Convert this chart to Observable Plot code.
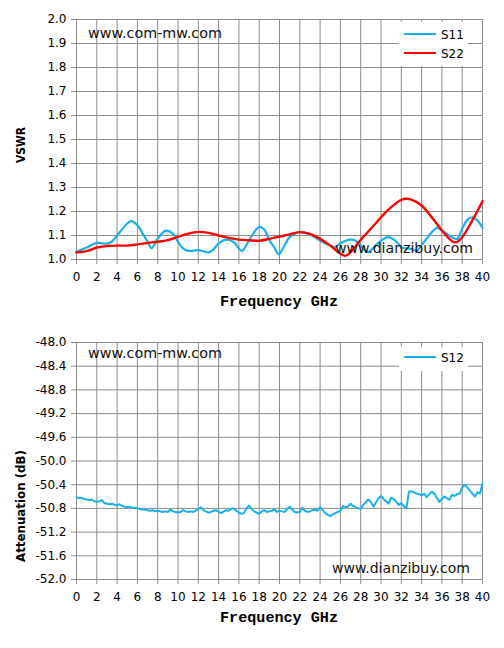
<!DOCTYPE html>
<html><head><meta charset="utf-8">
<script src="https://cdn.jsdelivr.net/npm/d3@7"></script>
<script src="https://cdn.jsdelivr.net/npm/@observablehq/plot@0.6"></script>
<style>
body{margin:0;background:#fff;}
#wrap{position:relative;width:504px;height:648px;background:#fff;}
#wrap svg{display:block;}
#overlay{position:absolute;left:0;top:0;}
</style></head><body><div id="wrap"></div>
<script>
// ---------- data ----------
const freqTicks = [0,2,4,6,8,10,12,14,16,18,20,22,24,26,28,30,32,34,36,38,40];
const vswrTicks = [1.0,1.1,1.2,1.3,1.4,1.5,1.6,1.7,1.8,1.9,2.0];
const attTicks = [-52.0,-51.6,-51.2,-50.8,-50.4,-50.0,-49.6,-49.2,-48.8,-48.4,-48.0];

const s11Freq = [0,1,2,3,3.5,4,5,5.4,6,6.5,7,7.4,8,8.8,9.5,10,10.5,11,12,13,13.5,14,14.8,15.5,16.3,17,18,18.5,19,19.5,19.9,20.4,21,22,23,24,25,25.5,26,27,27.5,28,28.7,29.5,30,30.7,31.5,32,33,33.5,34,35,35.5,36,37,37.5,38,38.5,39,39.5,40];
const s11Vswr = [1.032,1.05,1.069,1.066,1.075,1.10,1.15,1.16,1.143,1.11,1.074,1.047,1.087,1.12,1.108,1.074,1.046,1.036,1.039,1.03,1.042,1.067,1.083,1.072,1.036,1.08,1.136,1.125,1.08,1.05,1.022,1.05,1.093,1.114,1.104,1.079,1.058,1.051,1.068,1.083,1.078,1.058,1.031,1.06,1.078,1.093,1.075,1.051,1.044,1.037,1.06,1.114,1.132,1.121,1.093,1.086,1.128,1.165,1.176,1.163,1.132];

const s22Freq = [0,1,2,3,4,5,6,7,8,9,10,11,12,13,14,15,16,17,18,19,20,21,22,23,24,25,26,26.5,27,28,29,30,31,32,32.5,33,34,35,36,37,37.4,38,39,40];
const s22Vswr = [1.029,1.035,1.05,1.056,1.058,1.058,1.063,1.069,1.074,1.081,1.094,1.108,1.115,1.111,1.10,1.09,1.083,1.08,1.078,1.086,1.095,1.105,1.114,1.107,1.086,1.058,1.024,1.015,1.031,1.082,1.128,1.176,1.218,1.249,1.253,1.249,1.225,1.176,1.121,1.076,1.072,1.093,1.163,1.243];

const s12Step = 0.25; // GHz between readings, starting at 0
const s12Att = [
-50.61,-50.63,-50.62,-50.64,-50.65,-50.66,-50.65,-50.68,-50.69,-50.68,-50.66,-50.71,-50.72,-50.73,-50.72,-50.74,
-50.75,-50.73,-50.76,-50.77,-50.78,-50.77,-50.79,-50.79,-50.80,-50.81,-50.82,-50.82,-50.83,-50.84,-50.83,-50.85,
-50.84,-50.85,-50.86,-50.85,-50.86,-50.82,-50.85,-50.86,-50.87,-50.86,-50.83,-50.85,-50.86,-50.85,-50.86,-50.84,
-50.81,-50.78,-50.83,-50.85,-50.87,-50.86,-50.84,-50.83,-50.86,-50.88,-50.85,-50.83,-50.84,-50.81,-50.80,-50.84,
-50.87,-50.89,-50.88,-50.80,-50.75,-50.81,-50.85,-50.87,-50.89,-50.85,-50.83,-50.86,-50.85,-50.84,-50.82,-50.86,
-50.84,-50.85,-50.86,-50.81,-50.77,-50.82,-50.86,-50.87,-50.86,-50.79,-50.84,-50.86,-50.85,-50.83,-50.82,-50.84,
-50.78,-50.83,-50.88,-50.91,-50.93,-50.90,-50.88,-50.86,-50.84,-50.76,-50.78,-50.77,-50.72,-50.76,-50.78,-50.80,
-50.81,-50.74,-50.70,-50.65,-50.69,-50.77,-50.70,-50.63,-50.59,-50.64,-50.68,-50.72,-50.62,-50.64,-50.69,-50.74,
-50.71,-50.76,-50.80,-50.52,-50.51,-50.53,-50.55,-50.56,-50.58,-50.55,-50.61,-50.56,-50.52,-50.55,-50.62,-50.69,
-50.64,-50.60,-50.63,-50.65,-50.57,-50.59,-50.56,-50.55,-50.45,-50.40,-50.44,-50.50,-50.55,-50.60,-50.53,-50.55,
-50.38];

const seriesNames = ["S11","S22","S12"];
const blue = "#18b0ea", red = "#ff0000", gridColor = "#8c8c8c";

// ---------- tables ----------
const s11 = s11Freq.map((f,i)=>({f, v:s11Vswr[i]}));
const s22 = s22Freq.map((f,i)=>({f, v:s22Vswr[i]}));
const s12 = s12Att.map((v,i)=>({f:i*s12Step, v}));

const baseStyle = {fontFamily:'"DejaVu Sans", sans-serif', fontSize:"12px", color:"black", background:"white", overflow:"visible"};

const chartTop = Plot.plot({
  width:504, height:322, marginTop:19, marginBottom:63, marginLeft:76, marginRight:22,
  style: baseStyle,
  x:{domain:[0,40]},
  y:{domain:[1,2]},
  marks:[
    Plot.gridX(freqTicks,{stroke:gridColor, strokeOpacity:1, strokeWidth:1}),
    Plot.gridY(vswrTicks,{stroke:gridColor, strokeOpacity:1, strokeWidth:1}),
    Plot.frame({stroke:gridColor, strokeWidth:1}),
    Plot.axisX(freqTicks,{tickSize:5, tickPadding:8, stroke:gridColor, fill:"black", label:null}),
    Plot.axisY(vswrTicks,{tickSize:5, tickPadding:5, stroke:gridColor, fill:"black", label:null, tickFormat:d=>d.toFixed(1)}),
    Plot.line(s11,{x:"f", y:"v", stroke:blue, strokeWidth:2.2, curve:"catmull-rom"}),
    Plot.line(s22,{x:"f", y:"v", stroke:red, strokeWidth:2.4, curve:"catmull-rom"})
  ]
});

const chartBottom = Plot.plot({
  width:504, height:326, marginTop:20, marginBottom:69, marginLeft:76, marginRight:22,
  style: baseStyle,
  x:{domain:[0,40]},
  y:{domain:[-52,-48]},
  marks:[
    Plot.gridX(freqTicks,{stroke:gridColor, strokeOpacity:1, strokeWidth:1}),
    Plot.gridY(attTicks,{stroke:gridColor, strokeOpacity:1, strokeWidth:1}),
    Plot.frame({stroke:gridColor, strokeWidth:1}),
    Plot.axisX(freqTicks,{tickSize:5, tickPadding:8, stroke:gridColor, fill:"black", label:null}),
    Plot.axisY(attTicks,{tickSize:5, tickPadding:5, stroke:gridColor, fill:"black", label:null, tickFormat:d=>d.toFixed(1)}),
    Plot.line(s12,{x:"f", y:"v", stroke:blue, strokeWidth:2, curve:"linear"})
  ]
});

const wrap = document.getElementById("wrap");
wrap.appendChild(chartTop);
wrap.appendChild(chartBottom);

// ---------- overlay: legends, watermarks, axis titles ----------
const ov = d3.create("svg").attr("id","overlay").attr("width",504).attr("height",648)
  .style("font-family",'"DejaVu Sans", sans-serif');

function legend(y0, h, entries){
  ov.append("rect").attr("x",399).attr("y",y0).attr("width",69).attr("height",h).attr("fill","white");
  entries.forEach(e=>{
    ov.append("line").attr("x1",404).attr("x2",436).attr("y1",e.y).attr("y2",e.y).attr("stroke",e.c).attr("stroke-width",2);
    ov.append("text").attr("x",441).attr("y",e.y+4.5).attr("font-size",12).attr("fill","black").text(e.name);
  });
}
legend(22, 44, [{name:seriesNames[0], c:blue, y:34},{name:seriesNames[1], c:red, y:53}]);
legend(347, 24, [{name:seriesNames[2], c:blue, y:357}]);

function wm(x,y,t,len){
  ov.append("text").attr("x",x).attr("y",y).attr("font-size",14).attr("fill","#111")
    .attr("textLength",len).attr("lengthAdjust","spacingAndGlyphs").text(t);
}
wm(88,38,"www.com-mw.com",134);
wm(335,253,"www.dianzibuy.com",138);
wm(88,358,"www.com-mw.com",134);
wm(332,573,"www.dianzibuy.com",138);

function xTitle(y){
  ov.append("text").attr("x",279).attr("y",y).attr("text-anchor","middle")
    .attr("font-family",'"Liberation Mono", monospace').attr("font-weight","bold").attr("font-size",15)
    .attr("textLength",118).attr("lengthAdjust","spacingAndGlyphs").text("Frequency GHz");
}
xTitle(306);
xTitle(622);

function yTitle(cy,t,len){
  ov.append("text").attr("transform",`translate(25,${cy}) rotate(-90)`).attr("text-anchor","middle")
    .attr("font-weight","bold").attr("font-size",13)
    .attr("textLength",len).attr("lengthAdjust","spacingAndGlyphs").text(t);
}
yTitle(145,"VSWR",36);
yTitle(506,"Attenuation (dB)",112);

wrap.appendChild(ov.node());
</script></body></html>
